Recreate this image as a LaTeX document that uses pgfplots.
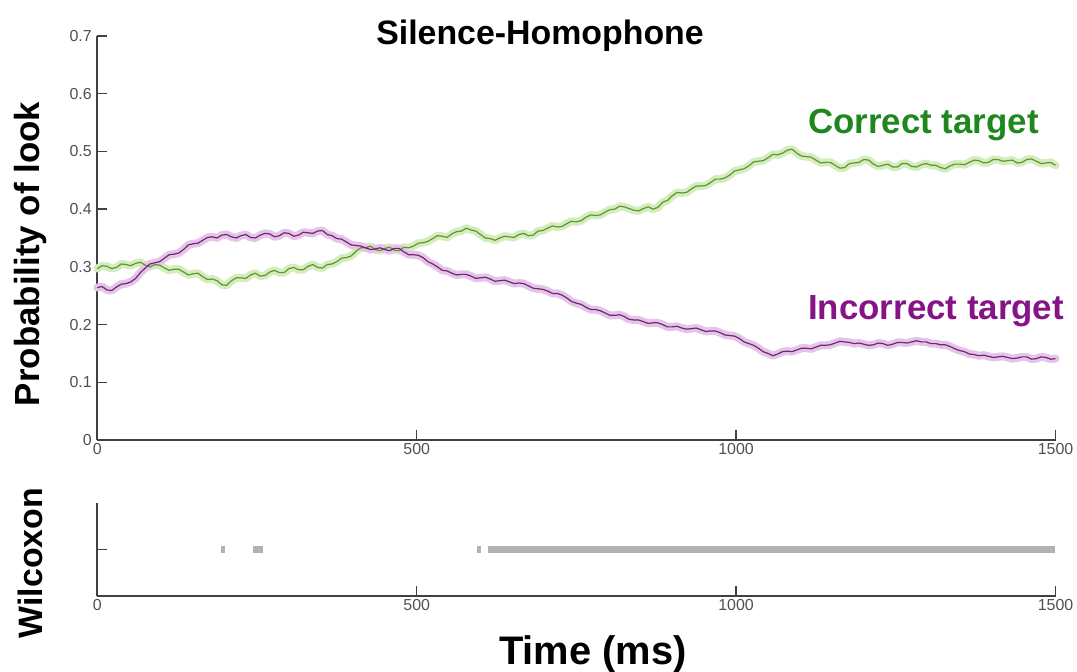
\documentclass[border=0pt]{standalone}
\usepackage{fontspec}
\setmainfont{Liberation Sans}
\usepackage{pgfplots}
\pgfplotsset{compat=1.18}
\usepackage{pgfplotstable}
\definecolor{axisgray}{RGB}{64,64,64}
\definecolor{tickgray}{RGB}{80,80,80}
\definecolor{gline}{RGB}{95,150,45}
\definecolor{gband}{RGB}{212,236,190}
\definecolor{pline}{RGB}{110,40,110}
\definecolor{pband}{RGB}{230,196,234}
\definecolor{glabel}{RGB}{30,135,30}
\definecolor{plabel}{RGB}{135,20,135}
\definecolor{barg}{RGB}{178,178,178}

\pgfplotstableread{
t v
0 .297
7.5 .302
15 .301
22.5 .297
30 .299
37.5 .305
45 .304
52.5 .302
60 .306
67.5 .308
75 .303
82.5 .300
90 .304
97.5 .303
105 .298
112.5 .294
120 .296
127.5 .296
135 .291
142.5 .286
150 .288
157.5 .289
165 .283
172.5 .278
180 .279
187.5 .276
195 .269
202.5 .268
210 .276
217.5 .281
225 .281
232.5 .280
240 .286
247.5 .289
255 .284
262.5 .285
270 .291
277.5 .294
285 .290
292.5 .290
300 .297
307.5 .299
315 .295
322.5 .295
330 .301
337.5 .304
345 .299
352.5 .298
360 .304
367.5 .305
375 .309
382.5 .315
390 .316
397.5 .319
405 .327
412.5 .333
420 .333
427.5 .336
435 .330
442.5 .328
450 .332
457.5 .334
465 .329
472.5 .328
480 .334
487.5 .333
495 .336
502.5 .341
510 .342
517.5 .344
525 .349
532.5 .354
540 .353
547.5 .351
555 .357
562.5 .361
570 .362
577.5 .367
585 .364
592.5 .362
600 .356
607.5 .350
615 .349
622.5 .346
630 .350
637.5 .353
645 .352
652.5 .351
660 .356
667.5 .358
675 .354
682.5 .355
690 .362
697.5 .363
705 .367
712.5 .371
720 .369
727.5 .370
735 .375
742.5 .379
750 .378
757.5 .380
765 .386
772.5 .390
780 .389
787.5 .390
795 .395
802.5 .399
810 .400
817.5 .405
825 .404
832.5 .401
840 .398
847.5 .397
855 .401
862.5 .404
870 .400
877.5 .403
885 .412
892.5 .415
900 .423
907.5 .429
915 .428
922.5 .429
930 .435
937.5 .440
945 .440
952.5 .441
960 .446
967.5 .452
975 .452
982.5 .454
990 .459
997.5 .466
1005 .468
1012.5 .470
1020 .475
1027.5 .482
1035 .483
1042.5 .484
1050 .489
1057.5 .495
1065 .494
1072.5 .497
1080 .502
1087.5 .504
1095 .497
1102.5 .492
1110 .491
1117.5 .490
1125 .485
1132.5 .480
1140 .481
1147.5 .481
1155 .476
1162.5 .471
1170 .472
1177.5 .479
1185 .480
1192.5 .481
1200 .486
1207.5 .485
1215 .478
1222.5 .474
1230 .476
1237.5 .478
1245 .473
1252.5 .473
1260 .479
1267.5 .479
1275 .474
1282.5 .473
1290 .477
1297.5 .479
1305 .476
1312.5 .476
1320 .472
1327.5 .470
1335 .475
1342.5 .478
1350 .478
1357.5 .477
1365 .481
1372.5 .485
1380 .484
1387.5 .480
1395 .481
1402.5 .486
1410 .486
1417.5 .483
1425 .484
1432.5 .485
1440 .480
1447.5 .481
1455 .486
1462.5 .487
1470 .483
1477.5 .479
1485 .480
1492.5 .481
1500 .476
}\correct

\pgfplotstableread{
t v
0 .264
7.5 .266
15 .260
22.5 .259
30 .265
37.5 .270
45 .271
52.5 .274
60 .280
67.5 .290
75 .298
82.5 .305
90 .307
97.5 .309
105 .315
112.5 .321
120 .322
127.5 .324
135 .330
142.5 .338
150 .340
157.5 .341
165 .346
172.5 .351
180 .352
187.5 .350
195 .355
202.5 .356
210 .352
217.5 .350
225 .354
232.5 .356
240 .351
247.5 .350
255 .355
262.5 .358
270 .357
277.5 .352
285 .354
292.5 .359
300 .358
307.5 .353
315 .355
322.5 .360
330 .359
337.5 .358
345 .362
352.5 .363
360 .356
367.5 .354
375 .349
382.5 .348
390 .343
397.5 .338
405 .337
412.5 .336
420 .333
427.5 .330
435 .331
442.5 .333
450 .330
457.5 .328
465 .332
472.5 .332
480 .326
487.5 .321
495 .321
502.5 .320
510 .316
517.5 .309
525 .305
532.5 .300
540 .294
547.5 .293
555 .289
562.5 .286
570 .287
577.5 .287
585 .284
592.5 .280
600 .281
607.5 .282
615 .279
622.5 .275
630 .276
637.5 .277
645 .274
652.5 .271
660 .272
667.5 .271
675 .267
682.5 .263
690 .262
697.5 .261
705 .258
712.5 .254
720 .254
727.5 .251
735 .246
742.5 .240
750 .237
757.5 .235
765 .230
772.5 .226
780 .226
787.5 .224
795 .220
802.5 .216
810 .216
817.5 .217
825 .214
832.5 .209
840 .208
847.5 .208
855 .205
862.5 .202
870 .203
877.5 .203
885 .200
892.5 .196
900 .196
907.5 .197
915 .194
922.5 .192
930 .193
937.5 .194
945 .191
952.5 .188
960 .189
967.5 .189
975 .186
982.5 .182
990 .181
997.5 .180
1005 .176
1012.5 .170
1020 .167
1027.5 .164
1035 .159
1042.5 .153
1050 .150
1057.5 .146
1065 .149
1072.5 .153
1080 .154
1087.5 .153
1095 .156
1102.5 .159
1110 .159
1117.5 .158
1125 .161
1132.5 .164
1140 .164
1147.5 .165
1155 .168
1162.5 .171
1170 .170
1177.5 .169
1185 .167
1192.5 .168
1200 .166
1207.5 .164
1215 .165
1222.5 .168
1230 .167
1237.5 .164
1245 .166
1252.5 .169
1260 .169
1267.5 .168
1275 .170
1282.5 .172
1290 .170
1297.5 .170
1305 .167
1312.5 .167
1320 .165
1327.5 .165
1335 .162
1342.5 .158
1350 .155
1357.5 .153
1365 .149
1372.5 .148
1380 .146
1387.5 .147
1395 .145
1402.5 .143
1410 .144
1417.5 .145
1425 .143
1432.5 .141
1440 .142
1447.5 .144
1455 .144
1462.5 .140
1470 .141
1477.5 .144
1485 .143
1492.5 .140
1500 .141
}\incorrect

\pgfplotsset{mystyle/.style={
  scale only axis, width=958.2bp,
  axis x line*=bottom, axis y line*=left,
  axis line style={axisgray, line width=2bp, -},
  tick style={axisgray, line width=1.5bp}, tick align=inside,
  major tick length=10bp,
  xmin=0, xmax=1500, xtick={0,500,1000,1500},
  ticklabel style={font=\fontsize{16}{18}\selectfont, text=tickgray},
  yticklabel style={xshift=-2bp},
  /pgf/number format/assume math mode=true,
  /pgf/number format/1000 sep={},
  clip=false,
}}

\begin{document}
\begin{tikzpicture}
\useasboundingbox (0,0) rectangle (1077bp,672bp);
\begin{axis}[mystyle, at={(97.3bp,232bp)}, anchor=south west,
  height=404bp, ymin=0, ymax=0.7,
  ytick={0,0.1,0.2,0.3,0.4,0.5,0.6,0.7},
  yticklabels={0,0.1,0.2,0.3,0.4,0.5,0.6,0.7}]
  \addplot[gband, line width=8bp, line join=round, line cap=round] table[x=t,y=v] {\correct};
  \addplot[pband, line width=8bp, line join=round, line cap=round] table[x=t,y=v] {\incorrect};
  \addplot[gline, line width=1.2bp, line join=round] table[x=t,y=v] {\correct};
  \addplot[pline, line width=1.2bp, line join=round] table[x=t,y=v] {\incorrect};
\end{axis}
\begin{axis}[mystyle, at={(97.3bp,76.3bp)}, anchor=south west,
  height=92.7bp, ymin=0, ymax=2, ytick={1}, yticklabels={}]
  \addplot[barg, line width=7bp] coordinates {(194,1) (200,1)};
  \addplot[barg, line width=7bp] coordinates {(243,1) (259,1)};
  \addplot[barg, line width=7bp] coordinates {(594,1) (601,1)};
  \addplot[barg, line width=7bp] coordinates {(611,1) (1499,1)};
\end{axis}
\node[font=\fontsize{34}{40}\selectfont\bfseries] at (540bp,636bp) {Silence-Homophone};
\node[font=\fontsize{35}{40}\selectfont\bfseries, rotate=90] at (30bp,418bp) {Probability of look};
\node[font=\fontsize{34}{40}\selectfont\bfseries, rotate=90] at (30bp,109bp) {Wilcoxon};
\node[font=\fontsize{40}{46}\selectfont\bfseries] at (593bp,18bp) {Time (ms)};
\node[font=\fontsize{35}{40}\selectfont\bfseries, text=glabel, anchor=west, inner sep=0pt] at (808bp,547bp) {Correct target};
\node[font=\fontsize{35}{40}\selectfont\bfseries, text=plabel, anchor=west, inner sep=0pt] at (808bp,361bp) {Incorrect target};
\end{tikzpicture}
\end{document}
